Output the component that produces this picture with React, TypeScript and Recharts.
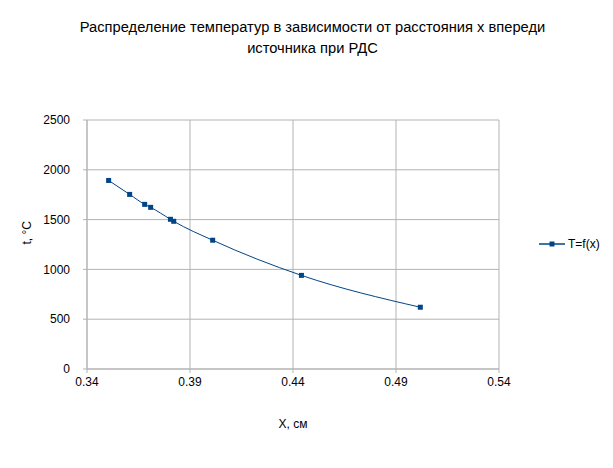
import { LineChart, Line, XAxis, YAxis, CartesianGrid } from 'recharts'

const distances = [0.3505, 0.3607, 0.368, 0.3709, 0.3805, 0.3821, 0.401, 0.4441, 0.5018]
const temperatures = [1893, 1753, 1653, 1623, 1503, 1483, 1293, 940, 620]
const xTicks = [0.34, 0.39, 0.44, 0.49, 0.54]
const yTicks = [0, 500, 1000, 1500, 2000, 2500]

const data = distances.map((x, i) => ({ x, t: temperatures[i] }))

const font = '"Liberation Sans", Arial, sans-serif'
const blue = '#004586'
const grid = '#b3b3b3'

function SquareDot(props: any) {
  const { cx, cy, index } = props
  if (cx == null || cy == null) return null
  return <rect key={index} x={cx - 2.5} y={cy - 2.5} width={5} height={5} fill={blue} />
}

function LegendBox() {
  return (
    <div
      style={{
        position: 'absolute',
        left: 539,
        top: 237,
        display: 'flex',
        alignItems: 'center',
        fontFamily: font,
        fontSize: 12,
        color: '#000',
      }}
    >
      <svg width={26} height={10} style={{ marginRight: 3 }}>
        <line x1={0} y1={5} x2={26} y2={5} stroke={blue} strokeWidth={1.5} />
        <rect x={10.5} y={2.5} width={5} height={5} fill={blue} />
      </svg>
      <span>T=f(x)</span>
    </div>
  )
}

export default function App() {
  return (
    <div style={{ position: 'absolute', left: 0, top: 0, width: 613, height: 468, background: '#fff' }}>
      <div
        style={{
          position: 'absolute',
          left: 6,
          top: 17,
          width: 613,
          textAlign: 'center',
          fontFamily: font,
          fontSize: 14.7,
          lineHeight: '21px',
          color: '#000',
        }}
      >
        Распределение температур в зависимости от расстояния x впереди
        <br />
        источника при РДС
      </div>
      <LineChart
        width={613}
        height={468}
        data={data}
        margin={{ top: 120, right: 114, bottom: 39, left: 0 }}
      >
        <CartesianGrid stroke={grid} strokeWidth={1} />
        <XAxis
          dataKey="x"
          type="number"
          domain={[0.34, 0.54]}
          ticks={xTicks}
          tickFormatter={(v: number) => v.toFixed(2)}
          axisLine={{ stroke: grid }}
          tickLine={{ stroke: grid }}
          tickSize={4}
          tickMargin={4}
          tick={{ fill: '#000', fontSize: 12, fontFamily: font }}
          height={60}
          label={{ value: 'X, см', position: 'insideBottom', offset: 1, fill: '#000', fontSize: 12, fontFamily: font }}
        />
        <YAxis
          type="number"
          domain={[0, 2500]}
          ticks={yTicks}
          axisLine={{ stroke: grid }}
          tickLine={{ stroke: grid }}
          tickSize={4}
          tickMargin={13}
          width={87}
          tick={{ fill: '#000', fontSize: 12, fontFamily: font }}
          label={{ value: 't, °C', angle: -90, position: 'insideLeft', offset: 27, fill: '#000', fontSize: 12, fontFamily: font }}
        />
        <Line
          type="monotone"
          dataKey="t"
          stroke={blue}
          strokeWidth={1}
          dot={SquareDot}
          activeDot={false}
          isAnimationActive={false}
        />
      </LineChart>
      <LegendBox />
    </div>
  )
}
